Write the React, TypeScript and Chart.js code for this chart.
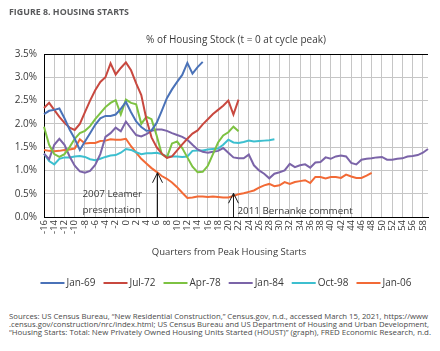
import React, { useEffect, useLayoutEffect, useRef } from 'react';
import { Chart, registerables } from 'chart.js';

Chart.register(...registerables);

// ---------- data ----------
const QUARTERS = [
  -16, -15, -14, -13, -12, -11, -10, -9, -8, -7, -6, -5, -4, -3, -2, -1,
  0, 1, 2, 3, 4, 5, 6, 7, 8, 9, 10, 11, 12, 13, 14, 15, 16, 17, 18, 19,
  20, 21, 22, 23, 24, 25, 26, 27, 28, 29, 30, 31, 32, 33, 34, 35, 36, 37,
  38, 39, 40, 41, 42, 43, 44, 45, 46, 47, 48, 49, 50, 51, 52, 53, 54, 55,
  56, 57, 58, 59,
];

const SERIES_NAMES = ['Jan-69', 'Jul-72', 'Apr-78', 'Jan-84', 'Oct-98', 'Jan-06'];

// values start at quarter -16
const JAN_69 = [
  2.21, 2.28, 2.3, 2.33, 2.12, 1.88, 1.68, 1.44, 1.62, 1.8, 1.98, 2.12, 2.17, 2.17, 2.2, 2.32,
  2.47, 2.25, 2.05, 1.93, 1.85, 1.86, 2.02, 2.28, 2.55, 2.74, 2.9, 3.05, 3.31, 3.08, 3.22, 3.33,
];
const JUL_72 = [
  2.34, 2.45, 2.3, 2.15, 2.02, 1.92, 1.87, 2.0, 2.25, 2.5, 2.72, 2.9, 3.0, 3.3, 3.06, 3.2,
  3.32, 3.15, 2.87, 2.62, 2.1, 1.71, 1.5, 1.36, 1.27, 1.3, 1.43, 1.56, 1.68, 1.79, 1.86, 1.99,
  2.1, 2.21, 2.3, 2.39, 2.5, 2.2, 2.52,
];
const APR_78 = [
  1.94, 1.55, 1.35, 1.29, 1.35, 1.5, 1.68, 1.8, 1.85, 1.95, 2.1, 2.23, 2.36, 2.45, 2.51, 2.2,
  2.52, 2.45, 2.42, 2.0, 2.15, 2.1, 1.75, 1.35, 1.28, 1.58, 1.62, 1.48, 1.28, 1.08, 0.96, 0.97,
  1.1, 1.35, 1.6, 1.75, 1.82, 1.94, 1.84,
];
const JAN_84 = [
  1.36, 1.24, 1.55, 1.68, 1.55, 1.3, 1.1, 0.98, 0.95, 0.99, 1.12, 1.35, 1.72, 1.8, 1.92, 1.84,
  2.05, 1.9, 1.76, 1.73, 1.78, 1.85, 1.88, 1.88, 1.85, 1.8, 1.76, 1.72, 1.66, 1.55, 1.45, 1.4,
  1.38, 1.4, 1.42, 1.48, 1.38, 1.28, 1.26, 1.26, 1.34, 1.11, 1.0, 0.93, 0.83, 0.93, 0.96, 1.0,
  1.14, 1.07, 1.11, 1.13, 1.06, 1.17, 1.18, 1.28, 1.25, 1.3, 1.32, 1.3, 1.16, 1.13, 1.23, 1.25,
  1.26, 1.28, 1.29, 1.23, 1.23, 1.25, 1.26, 1.3, 1.31, 1.33, 1.38, 1.46,
];
const OCT_98 = [
  1.36, 1.2, 1.13, 1.25, 1.28, 1.28, 1.3, 1.31, 1.29, 1.24, 1.22, 1.25, 1.29, 1.32, 1.33, 1.38,
  1.46, 1.44, 1.39, 1.35, 1.37, 1.37, 1.38, 1.35, 1.3, 1.3, 1.3, 1.29, 1.3, 1.42, 1.43, 1.43,
  1.45, 1.46, 1.47, 1.55, 1.66, 1.6, 1.59, 1.61, 1.64, 1.62, 1.63, 1.64, 1.65, 1.67,
];
const JAN_06 = [
  1.44, 1.42, 1.41, 1.42, 1.44, 1.45, 1.47, 1.67, 1.58, 1.59, 1.59, 1.63, 1.64, 1.67, 1.66, 1.66,
  1.68, 1.52, 1.38, 1.25, 1.15, 1.05, 0.97, 0.88, 0.82, 0.74, 0.64, 0.52, 0.41, 0.42, 0.44, 0.44,
  0.43, 0.44, 0.43, 0.42, 0.42, 0.45, 0.49, 0.51, 0.54, 0.57, 0.63, 0.68, 0.71, 0.66, 0.68, 0.75,
  0.71, 0.75, 0.77, 0.79, 0.73, 0.86, 0.86, 0.83, 0.86, 0.86, 0.84, 0.91, 0.87, 0.84, 0.84, 0.89,
  0.95,
];

const SERIES_VALUES = [JAN_69, JUL_72, APR_78, JAN_84, OCT_98, JAN_06];
const COLORS = ['#4a72b8', '#c8483f', '#7dc242', '#7b64a8', '#3dbfcf', '#f26a36'];

const FIGURE_TITLE = 'FIGURE 8. HOUSING STARTS';
const CHART_TITLE = '% of Housing Stock (t = 0 at cycle peak)';
const X_TITLE = 'Quarters from Peak Housing Starts';
const ANNOTATIONS = [
  { quarter: 6, value: 0.95, lines: ['2007 Leamer', 'presentation'], side: 'left' },
  { quarter: 21, value: 0.51, lines: ['2011 Bernanke comment'], side: 'right' },
];
const SOURCE_LINES = [
  'Sources: US Census Bureau, \u201cNew Residential Construction,\u201d Census.gov, n.d., accessed March 15, 2021, https://www',
  '.census.gov/construction/nrc/index.html; US Census Bureau and US Department of Housing and Urban Development,',
  '\u201cHousing Starts: Total: New Privately Owned Housing Units Started (HOUST)\u201d (graph), FRED Economic Research, n.d.',
];

// ---------- style ----------
const FONT = '"Open Sans", "DejaVu Sans", sans-serif';
const TEXT = '#3a3a3a';
const GRID = '#c6c6c6';

function FitText({ text, width, style }: { text: string; width: number; style?: React.CSSProperties }) {
  const ref = useRef<HTMLSpanElement>(null);
  useLayoutEffect(() => {
    const el = ref.current;
    if (!el) return;
    const fit = () => {
      el.style.transform = 'none';
      const w = el.getBoundingClientRect().width;
      if (w > 0) el.style.transform = `scaleX(${width / w})`;
    };
    fit();
    (document as any).fonts?.ready?.then(fit);
  }, [text, width]);
  return (
    <span
      ref={ref}
      style={{ display: 'inline-block', whiteSpace: 'nowrap', transformOrigin: 'left center', ...style }}
    >
      {text}
    </span>
  );
}

const overlayPlugin = {
  id: 'overlay',
  afterDatasetsDraw(chart: any) {
    const { ctx, chartArea: ca, scales } = chart;
    const x = scales.x;
    const y = scales.y;
    ctx.save();
    ctx.fillStyle = TEXT;
    ctx.textBaseline = 'middle';
    ctx.textAlign = 'center';
    ctx.font = `10px ${FONT}`;
    ctx.fillText(CHART_TITLE, (ca.left + ca.right) / 2, ca.top - 14);
    ctx.font = `9.5px ${FONT}`;
    ctx.fillText(X_TITLE, (ca.left + ca.right) / 2 - 7, ca.bottom + 35);

    ANNOTATIONS.forEach((a) => {
      const px = Math.round(x.getPixelForValue(QUARTERS.indexOf(a.quarter))) + 0.5;
      const tip = y.getPixelForValue(a.value);
      ctx.strokeStyle = '#1a1a1a';
      ctx.lineWidth = 1;
      ctx.beginPath();
      ctx.moveTo(px, ca.bottom);
      ctx.lineTo(px, tip);
      ctx.moveTo(px - 5, tip + 10);
      ctx.lineTo(px, tip);
      ctx.lineTo(px + 5, tip + 10);
      ctx.stroke();
      ctx.font = `9.8px ${FONT}`;
      ctx.fillStyle = TEXT;
      ctx.textAlign = 'left';
      if (a.side === 'left') {
        a.lines.forEach((l, i) => ctx.fillText(l, px - 75, ca.bottom - 23 + i * 16));
      } else {
        a.lines.forEach((l, i) => ctx.fillText(l, px + 4, ca.bottom - 6 + i * 16));
      }
    });

    // legend
    ctx.font = `10px ${FONT}`;
    ctx.textAlign = 'left';
    const lineW = 24;
    const gapText = 2;
    const gapItem = 8;
    const widths = SERIES_NAMES.map((n) => ctx.measureText(n).width);
    const total =
      widths.reduce((s, w) => s + w + lineW + gapText, 0) + gapItem * (SERIES_NAMES.length - 1);
    let lx = (ca.left + ca.right) / 2 - 10 - total / 2;
    const ly = ca.bottom + 66;
    SERIES_NAMES.forEach((n, i) => {
      ctx.strokeStyle = COLORS[i];
      ctx.lineWidth = 2;
      ctx.beginPath();
      ctx.moveTo(lx, ly);
      ctx.lineTo(lx + lineW, ly);
      ctx.stroke();
      ctx.fillStyle = TEXT;
      ctx.fillText(n, lx + lineW + gapText, ly);
      lx += lineW + gapText + widths[i] + gapItem;
    });
    ctx.restore();
  },
};

export default function App() {
  const canvasRef = useRef<HTMLCanvasElement>(null);

  useLayoutEffect(() => {
    document.body.style.margin = '0';
  }, []);

  useEffect(() => {
    const canvas = canvasRef.current;
    if (!canvas) return;
    const labels = QUARTERS.map(String);
    const chart = new Chart(canvas, {
      type: 'line',
      data: {
        labels,
        datasets: SERIES_NAMES.map((name, i) => ({
          label: name,
          data: QUARTERS.map((_, j) => (j < SERIES_VALUES[i].length ? SERIES_VALUES[i][j] : null)),
          borderColor: COLORS[i],
          backgroundColor: COLORS[i],
          borderWidth: 2,
          pointRadius: 0,
          pointHoverRadius: 0,
          tension: 0,
          fill: false,
        })),
      },
      options: {
        responsive: false,
        animation: false,
        devicePixelRatio: 1,
        layout: { padding: { left: 0, right: 12, top: 54, bottom: 26 } },
        plugins: {
          title: { display: false },
          tooltip: { enabled: false },
          legend: { display: false },
        },
        scales: {
          x: {
            type: 'category',
            offset: false,
            grid: { color: GRID, lineWidth: 1, drawTicks: false },
            border: { color: '#000', width: 1 },
            ticks: {
              autoSkip: false,
              maxRotation: 90,
              minRotation: 90,
              padding: 3,
              color: TEXT,
              font: { family: FONT, size: 9.5 },
              callback: (_v: any, i: number) => (QUARTERS[i] % 2 === 0 ? String(QUARTERS[i]) : null),
            },
            afterFit: (s: any) => {
              s.height = 55;
            },
          },
          y: {
            min: 0,
            max: 3.5,
            grid: {
              color: (c: any) => (c.tick && c.tick.value === 3.5 ? '#000' : GRID),
              lineWidth: 1,
              drawTicks: false,
            },
            border: { color: '#000', width: 1 },
            ticks: {
              stepSize: 0.5,
              padding: 7,
              color: TEXT,
              font: { family: FONT, size: 10 },
              callback: (v: any) => Number(v).toFixed(1) + '%',
            },
            afterFit: (s: any) => {
              s.width = 44;
            },
          },
        },
      },
      plugins: [overlayPlugin],
    } as any);
    return () => chart.destroy();
  }, []);

  return (
    <div style={{ position: 'relative', width: 440, height: 351, background: '#fff', overflow: 'hidden' }}>
      <canvas ref={canvasRef} width={440} height={298} style={{ position: 'absolute', left: 0, top: 0 }} />
      <div
        style={{
          position: 'absolute',
          left: 9,
          top: 7,
          lineHeight: '10px',
          fontFamily: FONT,
          fontWeight: 700,
          fontSize: 9.5,
          color: '#58595b',
        }}
      >
        <FitText text={FIGURE_TITLE} width={120} />
      </div>
      <div
        style={{
          position: 'absolute',
          left: 9,
          top: 312,
          fontFamily: FONT,
          fontSize: 7.2,
          lineHeight: '8px',
          color: '#4a4a4a',
        }}
      >
        {SOURCE_LINES.map((l, i) => (
          <div key={i} style={{ height: 8 }}>
            <FitText text={l} width={[419, 420, 422][i]} />
          </div>
        ))}
      </div>
    </div>
  );
}
